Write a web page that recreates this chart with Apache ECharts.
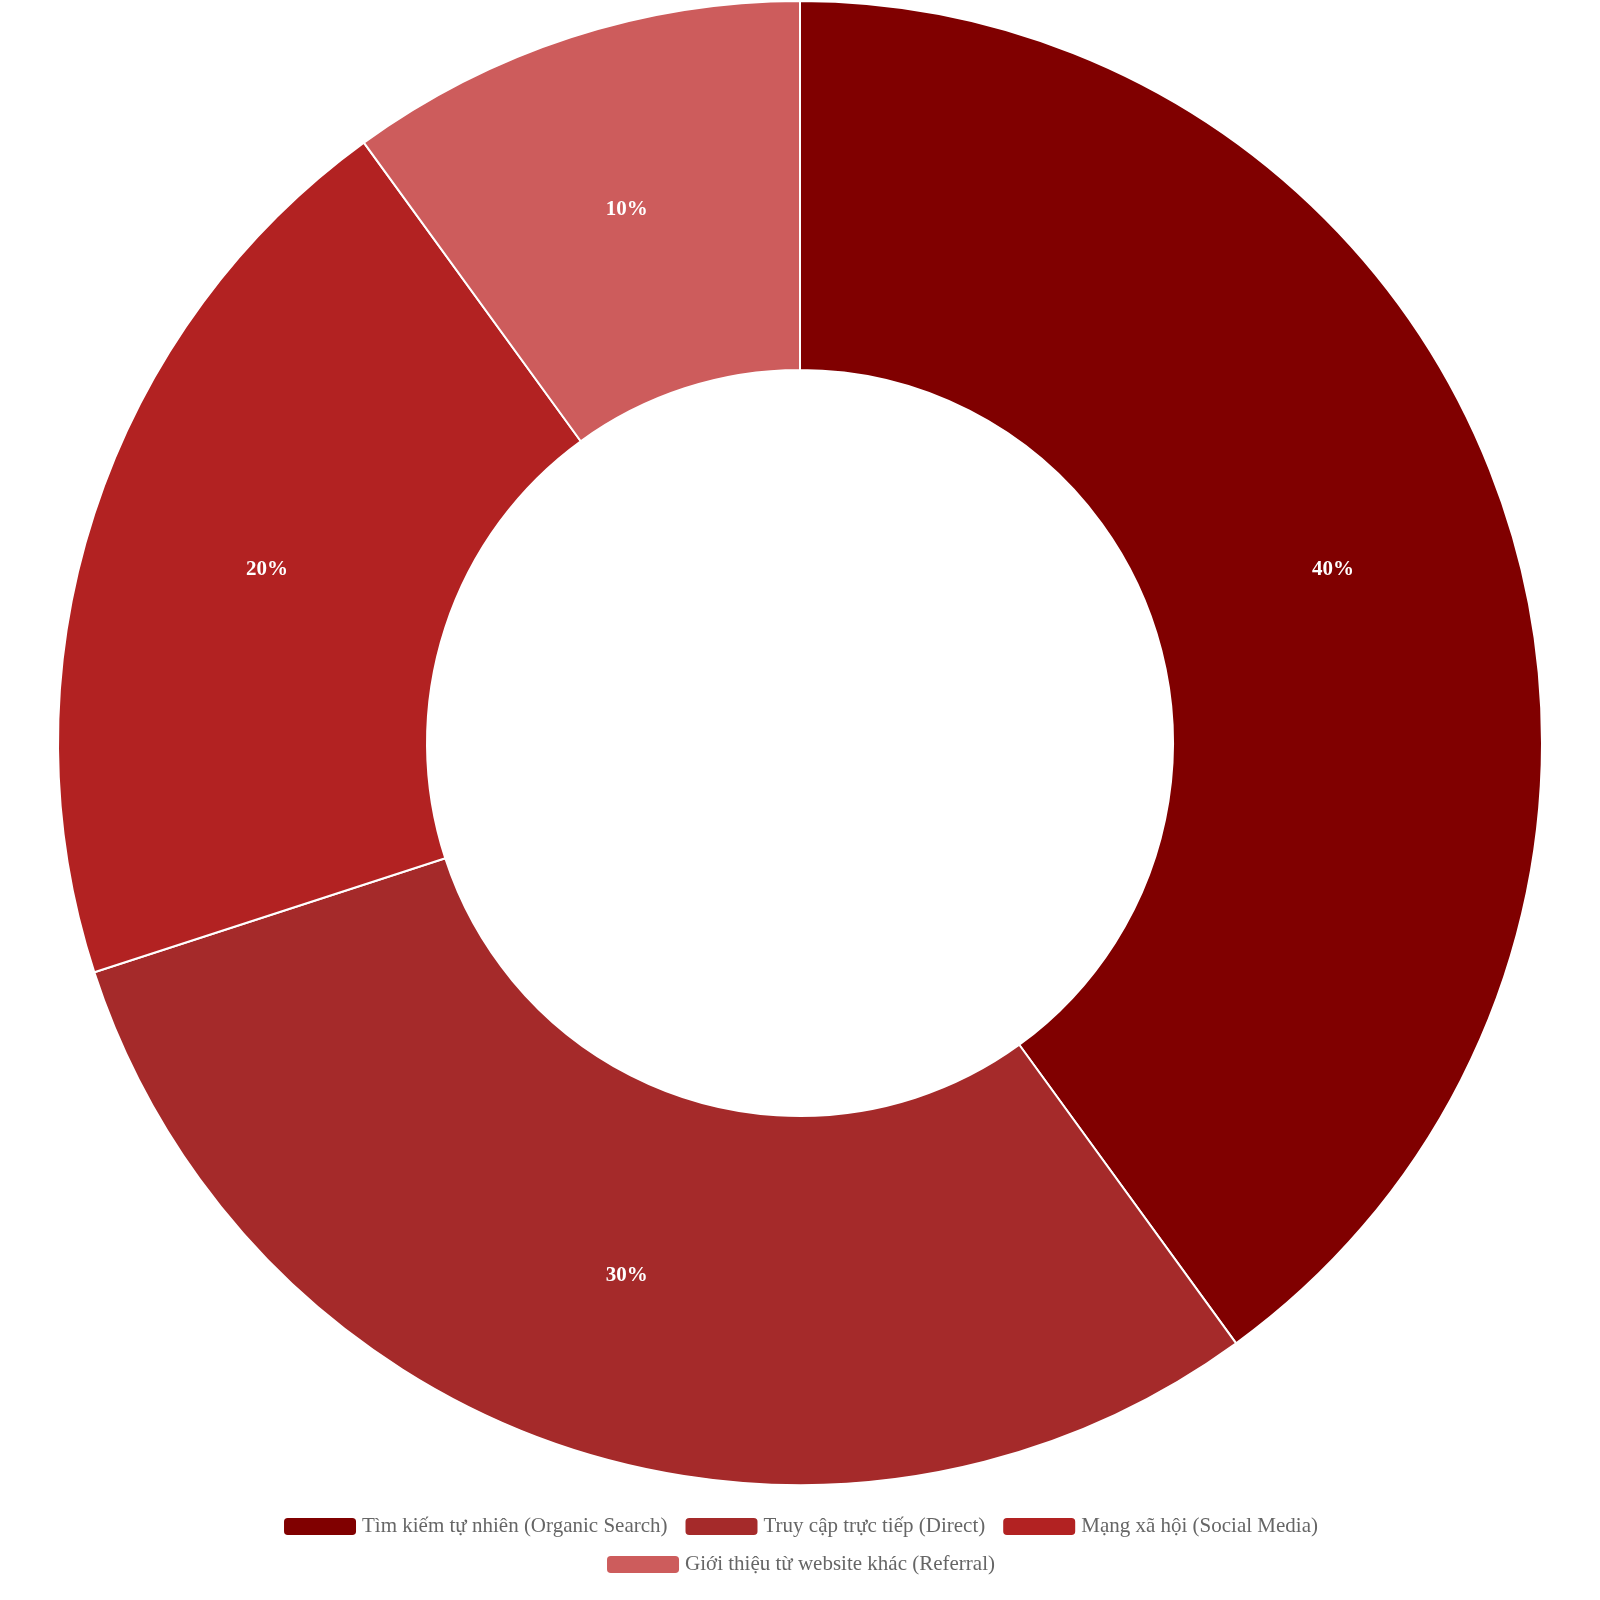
<!DOCTYPE html>
<html><head><meta charset="utf-8">
<script src="https://cdn.jsdelivr.net/npm/echarts@6/dist/echarts.min.js"></script>
<style>html,body{margin:0;padding:0;background:#fff}#c{width:1600px;height:1600px}</style>
</head><body><div id="c"></div>
<script>
const categories = ["Tìm kiếm tự nhiên (Organic Search)", "Truy cập trực tiếp (Direct)", "Mạng xã hội (Social Media)", "Giới thiệu từ website khác (Referral)"];
const values = [40, 30, 20, 10];
const colors = ["#800000", "#A52A2A", "#B22222", "#CD5C5C"];
const chart = echarts.init(document.getElementById('c'));
const legStyle = {
  left: 'center', orient: 'horizontal',
  itemWidth: 74, itemHeight: 19, itemGap: 16,
  textStyle: {fontFamily: "Liberation Serif", fontSize: 21, color: "#666"}
};
chart.setOption({
  color: colors,
  textStyle: {fontFamily: "Liberation Serif"},
  legend: [
    Object.assign({top: 1511, data: categories.slice(0, 3)}, legStyle),
    Object.assign({top: 1549, data: categories.slice(3)}, legStyle)
  ],
  series: [{
    type: 'pie', startAngle: 90, clockwise: true,
    center: [800, 743], radius: [373, 742],
    itemStyle: {borderColor: '#fff', borderWidth: 2},
    label: {show: true, position: 'inside', formatter: '{d}%', color: '#fff', fontWeight: 'bold', fontSize: 21, fontFamily: "Liberation Serif"},
    labelLine: {show: false},
    data: categories.map((n, i) => ({name: n, value: values[i]}))
  }]
});
</script></body></html>
